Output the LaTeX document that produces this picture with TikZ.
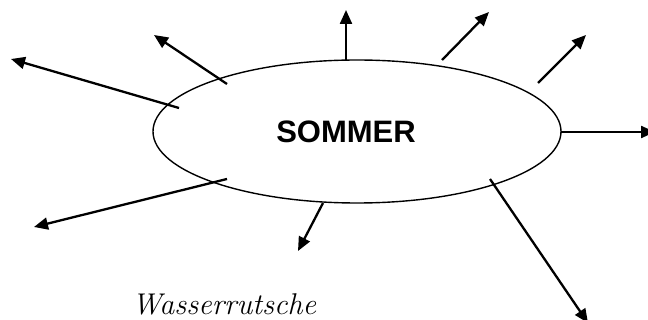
\documentclass[tikz,border=0pt]{standalone}
\usepackage{fontspec}
\setsansfont{Liberation Sans}
\usetikzlibrary{shapes.geometric,arrows.meta}
\begin{document}
\begin{tikzpicture}[x=1pt,y=-1pt,
  ray/.style={line width=2.3pt,-{Triangle[length=14pt,width=12pt]}},
  oval/.style={ellipse,draw,line width=1.4pt,minimum width=408pt,minimum height=143pt,inner sep=0pt}]
\useasboundingbox (0,0) rectangle (648,320);
\node[oval] (e) at (357,131.5) {};
\node[font=\sffamily\bfseries\fontsize{31}{33}\selectfont,inner sep=0pt] (t) at (346,132) {SOMMER};
\node[font=\itshape\fontsize{30}{32}\selectfont,anchor=base west,inner sep=0pt] (w) at (132,315) {Wasserrutsche};
% start points
\coordinate (s1) at (179,108);
\coordinate (s2) at (227,84);
\coordinate (s3) at (346,60);
\coordinate (s4) at (442,60);
\coordinate (s5) at (538,83);
\coordinate (s6) at (561,132);
\coordinate (s7) at (490,179);
\coordinate (s8) at (323,203);
\coordinate (s9) at (227,179);
% tips
\coordinate (p1) at (11,59);
\coordinate (p2) at (154,35);
\coordinate (p3) at (346,10);
\coordinate (p4) at (489,12);
\coordinate (p5) at (586,35);
\coordinate (p6) at (655,132);
\coordinate (p7) at (588,323);
\coordinate (p8) at (298,251);
\coordinate (p9) at (34,227);
\foreach \i in {1,...,9} \draw[ray] (s\i) -- (p\i);
\end{tikzpicture}
\end{document}
